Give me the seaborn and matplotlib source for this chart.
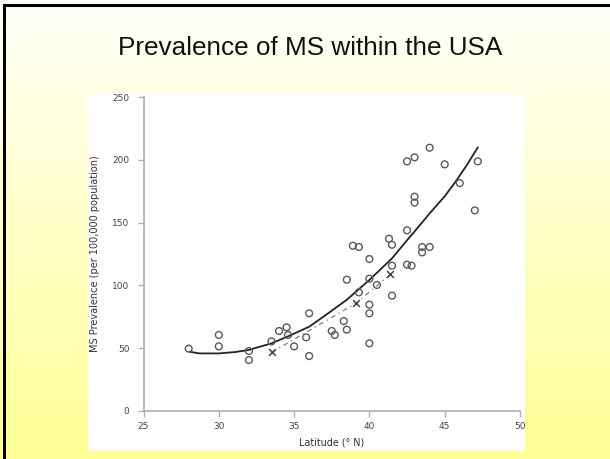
import numpy as np
import pandas as pd
import matplotlib
matplotlib.use("Agg")
import matplotlib.pyplot as plt
import matplotlib.patches as mpatches
import seaborn as sns

# ---- data ----
lat_obs = [28.0, 30.0, 30.0, 32.0, 32.0, 33.5, 34.0, 34.5, 34.6, 35.0, 35.8, 36.0, 36.0,
           37.5, 37.7, 38.3, 38.5, 38.5, 38.9, 39.3, 39.3, 40.0, 40.0, 40.0, 40.0, 40.0,
           40.5, 41.3, 41.5, 41.5, 41.5, 42.5, 42.5, 42.5, 42.8, 43.0, 43.0, 43.0, 43.5,
           43.5, 44.0, 44.0, 45.0, 46.0, 47.0, 47.2]
prev_obs = [49.5, 60.4, 51.3, 47.6, 40.4, 55.3, 63.6, 66.5, 60.4, 51.3, 58.5, 77.7, 43.6,
            63.6, 60.4, 71.5, 104.5, 64.6, 131.6, 130.6, 94.4, 121.0, 105.3, 84.6, 77.7, 53.7,
            100.3, 137.2, 132.4, 115.7, 91.8, 198.9, 143.9, 116.5, 115.7, 202.1, 170.7, 166.0, 130.6,
            126.3, 130.6, 209.8, 196.5, 181.6, 159.8, 198.9]

lat_mean = [33.5, 39.1, 41.4]
prev_mean = [46.5, 85.6, 108.8]

lat_fit = [28.05, 28.7, 30.0, 31.1, 32.0, 33.5, 34.9, 36.0, 37.1, 38.5, 40.0, 41.5,
           42.5, 43.0, 44.0, 45.0, 45.8, 46.5, 47.2]
prev_fit = [47.1, 45.7, 45.7, 46.8, 48.5, 53.7, 60.9, 67.0, 76.3, 88.5, 104.3, 121.5,
            136.0, 143.0, 157.4, 171.0, 184.0, 196.5, 210.1]

x_ticks = [25, 30, 35, 40, 45, 50]
y_ticks = [0, 50, 100, 150, 200, 250]

title = "Prevalence of MS within the USA"
xlabel = "Latitude (° N)"
ylabel = "MS Prevalence (per 100,000 population)"

# ---- figure ----
sns.set_style("white")
plt.rcParams["font.family"] = ["DejaVu Sans"]

W, H = 610, 459
fig = plt.figure(figsize=(W / 100, H / 100), dpi=100)

# gradient background
bg = fig.add_axes([0, 0, 1, 1], zorder=0)
bg.set_axis_off()
grad = np.linspace(0, 1, 256).reshape(-1, 1)
top = np.array([255, 255, 250]) / 255
bot = np.array([255, 255, 150]) / 255
img = top[None, None, :] * (1 - grad[:, :, None]) + bot[None, None, :] * grad[:, :, None]
bg.imshow(img, aspect="auto", extent=[0, W, H, 0])
bg.set_xlim(0, W)
bg.set_ylim(H, 0)
# border (left, top)
bg.add_patch(mpatches.Rectangle((3, 4), 3, H, color="black", lw=0))
bg.add_patch(mpatches.Rectangle((3, 4), W, 3, color="black", lw=0))
# white plot panel
bg.add_patch(mpatches.Rectangle((88, 94), 525 - 88, 451 - 94, color="white", lw=0))
bg.text(310, 48, title, ha="center", va="center", fontsize=18.8,
        family=["Liberation Sans", "DejaVu Sans"], color="#111111")

# main axes
x0, x1 = 143.5, 520.0
y0, y1 = 410.7, 97.3
ax = fig.add_axes([x0 / W, (H - y0) / H, (x1 - x0) / W, (y0 - y1) / H], zorder=2)
ax.set_facecolor("none")

obs = pd.DataFrame({"lat": lat_obs, "prev": prev_obs})
means = pd.DataFrame({"lat": lat_mean, "prev": prev_mean})
fit = pd.DataFrame({"lat": lat_fit, "prev": prev_fit})

sns.lineplot(data=means, x="lat", y="prev", ax=ax, color="#808080", lw=0.9,
             linestyle=(0, (4, 3, 1, 3)), sort=True, zorder=2)
sns.lineplot(data=fit, x="lat", y="prev", ax=ax, color="#222222", lw=1.3, sort=True, zorder=3)
sns.scatterplot(data=obs, x="lat", y="prev", ax=ax, marker="o", s=24,
                facecolor="none", edgecolor="#5a5a5a", linewidth=1.0, zorder=4)
sns.scatterplot(data=means, x="lat", y="prev", ax=ax, marker="x", s=24,
                color="#444444", linewidth=1.1, zorder=5)

ax.set_xlim(25, 50)
ax.set_ylim(0, 250)
ax.set_xticks(x_ticks)
ax.set_yticks(y_ticks)
ax.set_xticklabels([str(t) for t in x_ticks])
ax.set_yticklabels([str(t) for t in y_ticks])
for s in ["top", "right"]:
    ax.spines[s].set_visible(False)
for s in ["left", "bottom"]:
    ax.spines[s].set_color("#b0b0b0")
    ax.spines[s].set_linewidth(1.2)
ax.tick_params(axis="both", which="major", direction="out", length=4, width=1.0,
               color="#b0b0b0", labelsize=6.5, labelcolor="#444444",
               bottom=True, left=True)
ax.tick_params(axis="y", pad=6)
ax.tick_params(axis="x", pad=4)
ax.set_xlabel(xlabel, fontsize=6.9, color="#333333", labelpad=5)
ax.set_ylabel(ylabel, fontsize=7.0, color="#333333", labelpad=9)

fig.savefig("out.png", dpi=100)
